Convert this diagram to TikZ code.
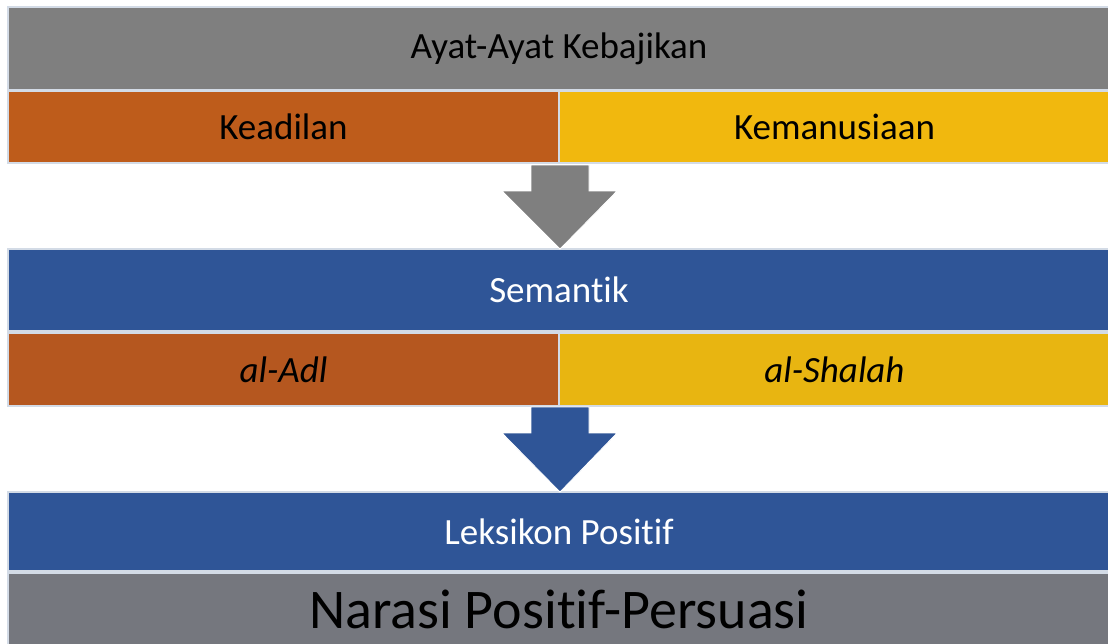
\documentclass[tikz,border=0pt]{standalone}
\usepackage{fontspec}
\setmainfont[Ligatures={NoCommon,NoRequired,NoContextual}]{Carlito}
\newcommand\tisep{t\kern0pt i}
\definecolor{bandgrey}{HTML}{7F7F7F}
\definecolor{botgrey}{HTML}{75777E}
\definecolor{orangeA}{HTML}{BE5C1B}
\definecolor{yellowA}{HTML}{F1B80E}
\definecolor{orangeB}{HTML}{B5571F}
\definecolor{yellowB}{HTML}{E8B511}
\definecolor{blueband}{HTML}{2F5597}
\definecolor{edgec}{HTML}{D3DBE6}
\begin{document}
\begin{tikzpicture}[x=1pt,y=-1pt,
  band/.style={rectangle,anchor=north west,inner sep=0pt,outer sep=0pt,draw=edgec,line width=1.5pt,font=\fontsize{37}{40}\selectfont},
  blockarrow/.style={draw=white,line width=0.8pt}]
\useasboundingbox (0,0) rectangle (1108,643);
\node[band,fill=bandgrey,minimum width=1102pt,minimum height=83pt,text=black] (ayat) at (8,7) {Ayat-Ayat Kebajikan};
\node[band,fill=orangeA,minimum width=551pt,minimum height=72pt,text=black] (kead) at (8,91) {Keadilan};
\node[band,fill=yellowA,minimum width=551pt,minimum height=72pt,text=black] (kem) at (559,91) {Kemanusiaan};
\node[band,fill=blueband,minimum width=1102pt,minimum height=82pt,text=white] (sem) at (8,249) {Seman\tisep k};
\node[band,fill=orangeB,minimum width=551pt,minimum height=73pt,text=black] (adl) at (8,333) {\itshape al-Adl};
\node[band,fill=yellowB,minimum width=551pt,minimum height=73pt,text=black] (shal) at (559,333) {\itshape al-Shalah};
\node[band,fill=blueband,minimum width=1102pt,minimum height=79pt,text=white] (lek) at (8,492) {Leksikon Posi\tisep f};
\node[band,fill=botgrey,minimum width=1102pt,minimum height=78pt,text=black,font=\fontsize{56}{60}\selectfont] (nar) at (8,573) {\raisebox{6pt}{Narasi Posi\tisep f-Persuasi}};
\fill[bandgrey,blockarrow] (531,165) -- (589,165) -- (589,191) -- (617,191) -- (560,249) -- (502,191) -- (531,191) -- cycle;
\fill[blueband,blockarrow] (531,407) -- (589,407) -- (589,433) -- (617,433) -- (560,492) -- (502,433) -- (531,433) -- cycle;
\end{tikzpicture}
\end{document}
